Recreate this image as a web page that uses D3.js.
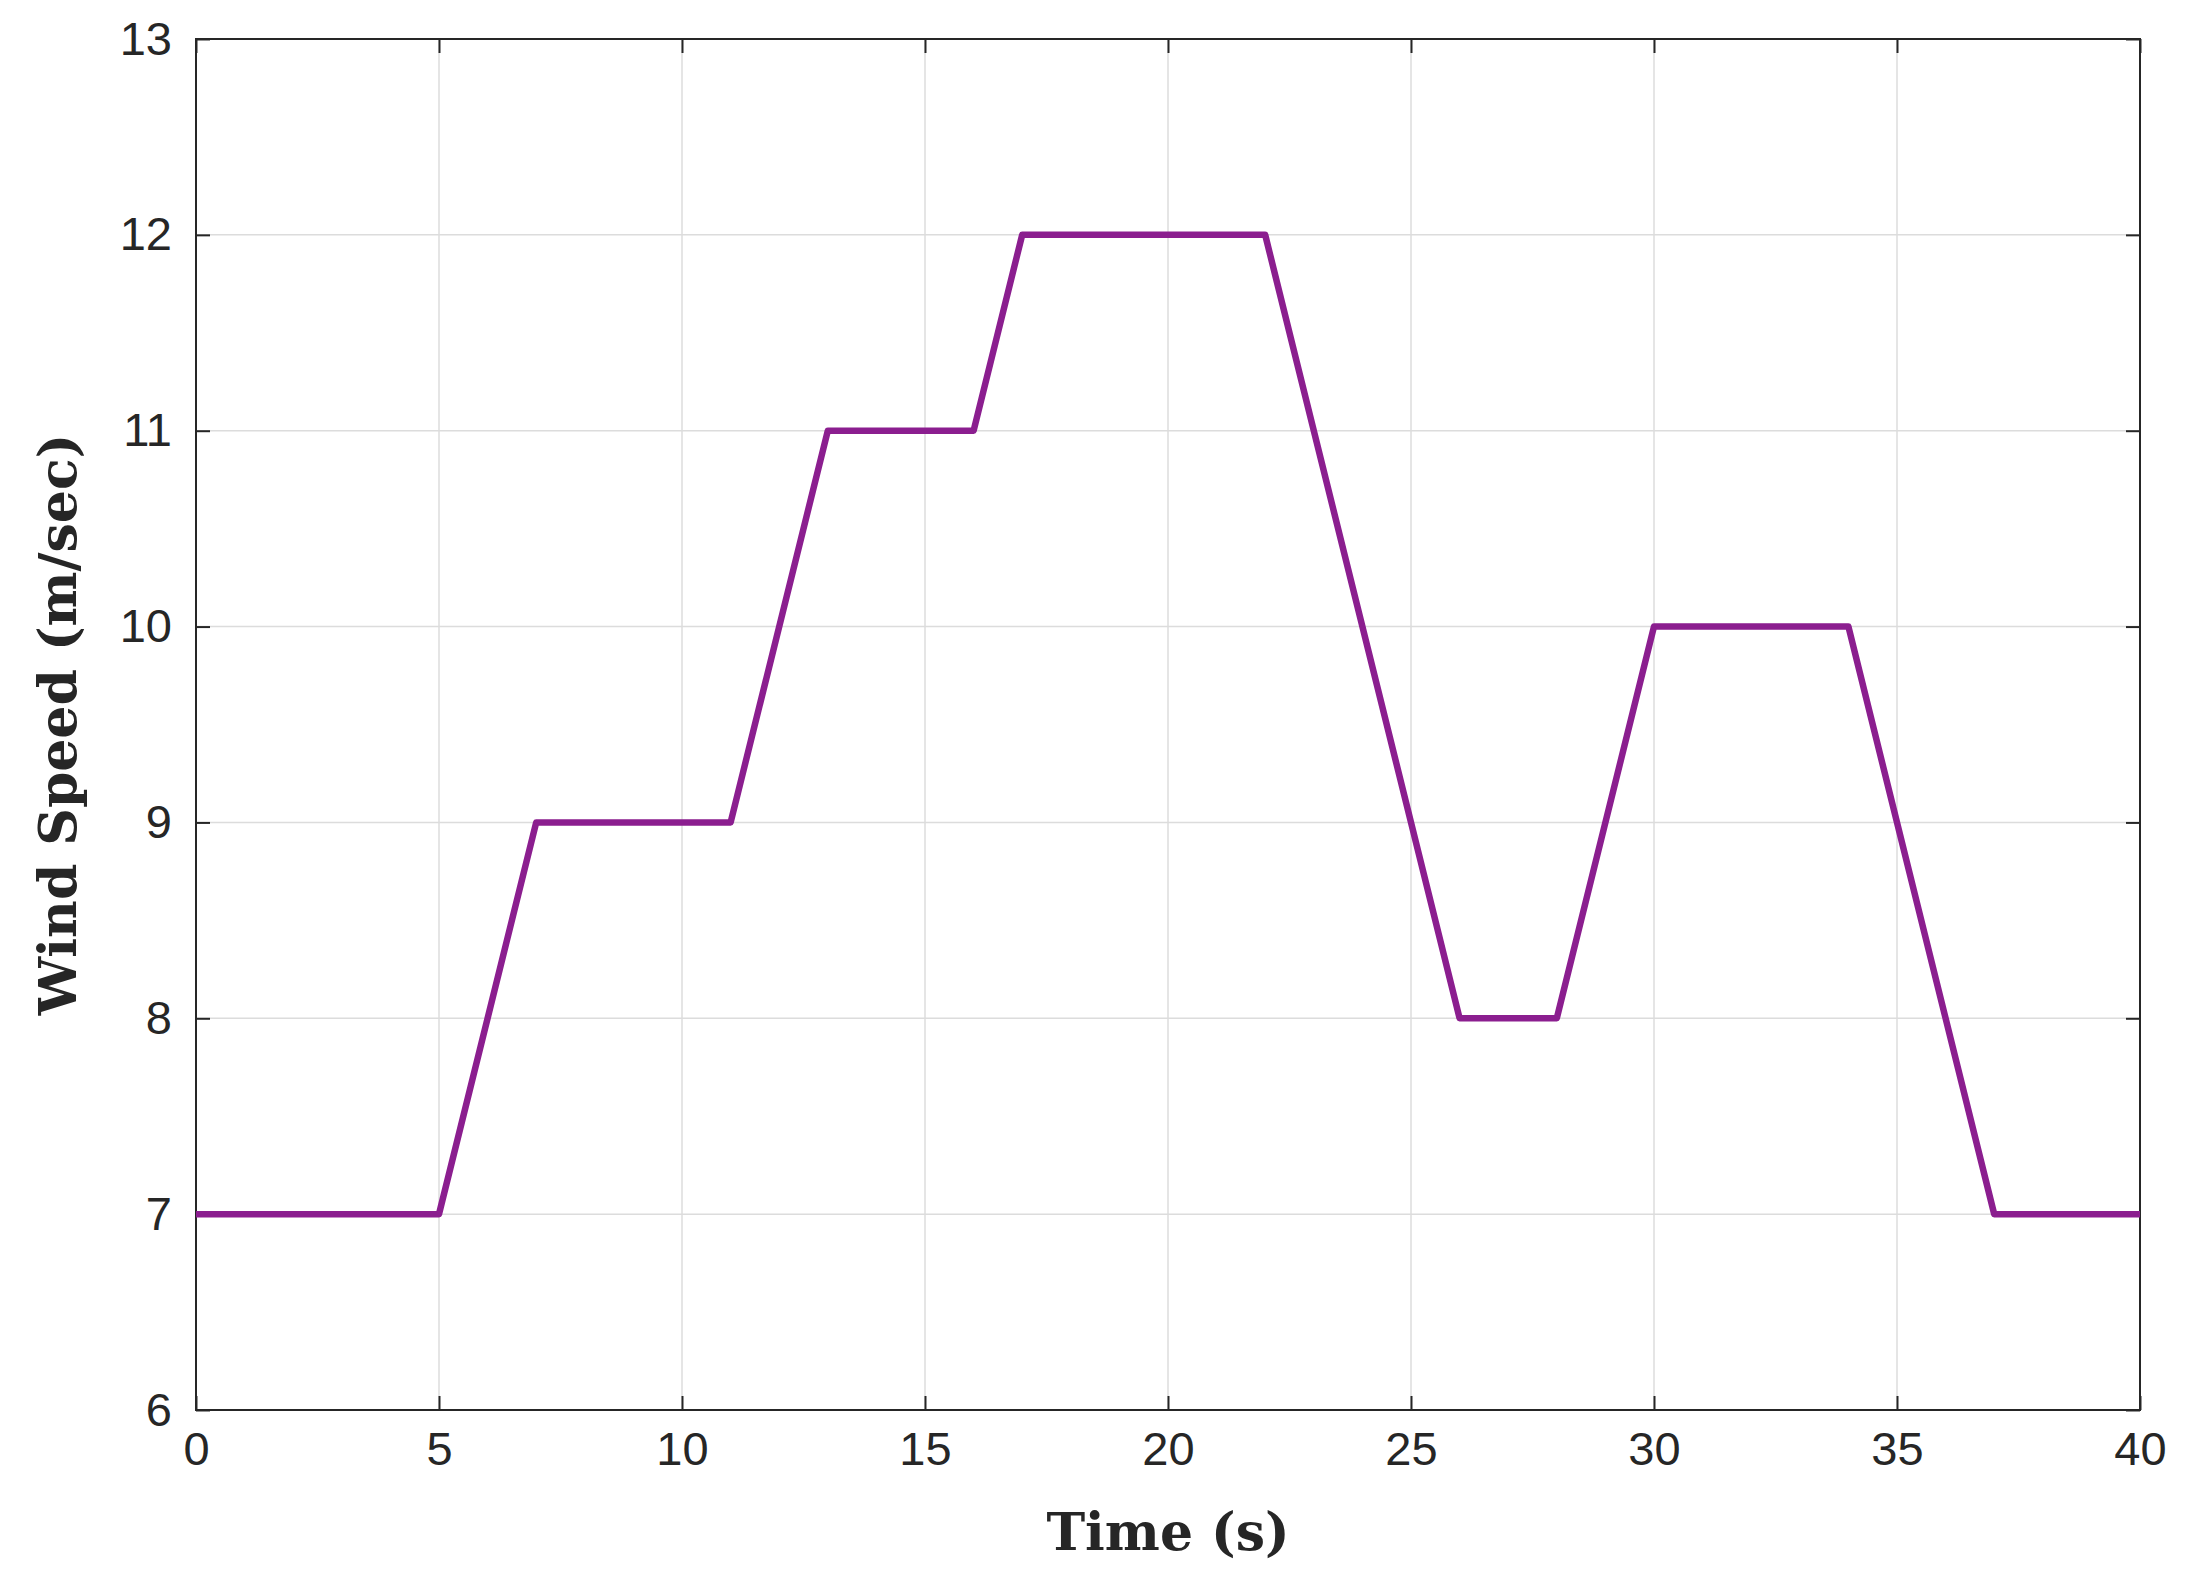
<!DOCTYPE html>
<html><head><meta charset="utf-8">
<script src="https://cdn.jsdelivr.net/npm/d3@7"></script>
<style>body{margin:0;background:#fff}</style>
</head><body><div id="chart"></div>
<script>
const times = [0, 5, 7, 11, 13, 16, 17, 22, 26, 28, 30, 34, 37, 40];
const speeds = [7, 7, 9, 9, 11, 11, 12, 12, 8, 8, 10, 10, 7, 7];
const xTicks = [0, 5, 10, 15, 20, 25, 30, 35, 40];
const yTicks = [6, 7, 8, 9, 10, 11, 12, 13];

const W = 2193, H = 1587;
const margin = { top: 39, right: 53, bottom: 177, left: 196 };
const width = W - margin.left - margin.right, height = H - margin.top - margin.bottom;

const svg = d3.select('#chart').append('svg').attr('width', W).attr('height', H)
  .append('g').attr('transform', `translate(${margin.left},${margin.top})`);

const x = d3.scaleLinear().domain([0, 40]).range([0, width]);
const y = d3.scaleLinear().domain([6, 13]).range([height, 0]);

// grid
svg.append('g').selectAll('line').data(xTicks).join('line')
  .attr('x1', d => x(d)).attr('x2', d => x(d)).attr('y1', 0).attr('y2', height)
  .attr('stroke', '#dcdcdc').attr('stroke-width', 1.5);
svg.append('g').selectAll('line').data(yTicks).join('line')
  .attr('y1', d => y(d)).attr('y2', d => y(d)).attr('x1', 0).attr('x2', width)
  .attr('stroke', '#dcdcdc').attr('stroke-width', 1.5);

const styleAxis = g => {
  g.select('.domain').remove();
  g.selectAll('line').attr('stroke', '#262626').attr('stroke-width', 2);
  g.selectAll('text').attr('font-family', 'Arial, Liberation Sans, sans-serif')
    .attr('font-size', 47).attr('fill', '#262626');
};
svg.append('g').attr('transform', `translate(0,${height})`)
  .call(d3.axisBottom(x).tickValues(xTicks).tickSizeInner(-14).tickSizeOuter(0).tickPadding(22))
  .call(styleAxis);
svg.append('g').call(d3.axisTop(x).tickValues(xTicks).tickSizeInner(-14).tickSizeOuter(0).tickFormat(''))
  .call(styleAxis);
svg.append('g')
  .call(d3.axisLeft(y).tickValues(yTicks).tickFormat(d3.format('d')).tickSizeInner(-14).tickSizeOuter(0).tickPadding(24))
  .call(styleAxis);
svg.append('g').attr('transform', `translate(${width},0)`)
  .call(d3.axisRight(y).tickValues(yTicks).tickSizeInner(-14).tickSizeOuter(0).tickFormat(''))
  .call(styleAxis);

svg.append('rect').attr('width', width).attr('height', height)
  .attr('fill', 'none').attr('stroke', '#262626').attr('stroke-width', 2);

const line = d3.line().x((d, i) => x(times[i])).y(d => y(d));
svg.append('path').datum(speeds).attr('d', line)
  .attr('fill', 'none').attr('stroke', '#8b1e8f').attr('stroke-width', 6.5)
  .attr('stroke-linejoin', 'round');

svg.append('text').attr('x', width / 2).attr('y', height + 140)
  .attr('text-anchor', 'middle').attr('font-family', 'DejaVu Serif, serif')
  .attr('font-weight', 'bold').attr('font-size', 52).attr('fill', '#262626')
  .text('Time (s)');
svg.append('text').attr('transform', `translate(-120,${height / 2}) rotate(-90)`)
  .attr('text-anchor', 'middle').attr('font-family', 'DejaVu Serif, serif')
  .attr('font-weight', 'bold').attr('font-size', 52).attr('fill', '#262626')
  .text('Wind Speed (m/sec)');
</script></body></html>
